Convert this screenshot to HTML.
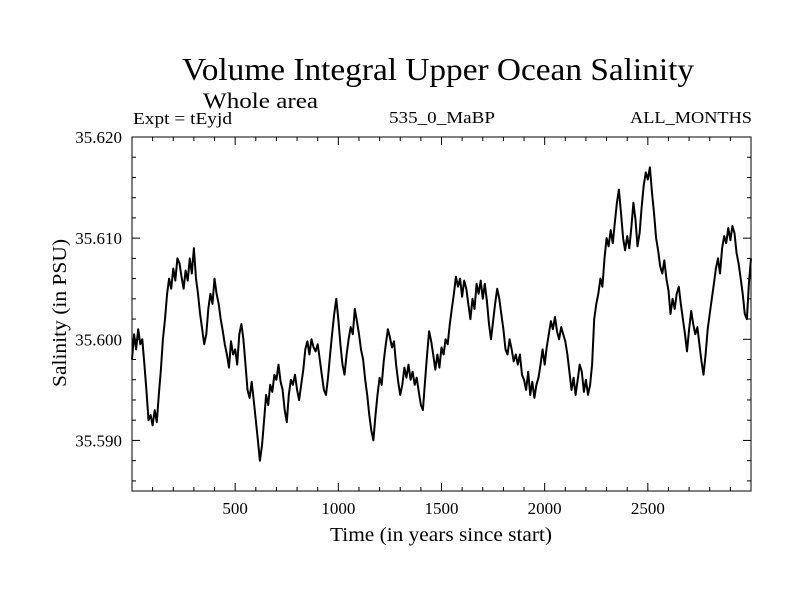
<!DOCTYPE html>
<html><head><meta charset="utf-8"><style>
html,body{margin:0;padding:0;background:#fff;}
svg{display:block;font-family:"Liberation Serif",serif;}
</style></head><body>
<svg id="chart" width="800" height="600" viewBox="0 0 800 600" xmlns="http://www.w3.org/2000/svg">
<rect x="0" y="0" width="800" height="600" fill="#fff"/>
<text x="182" y="80" font-size="32" textLength="512" lengthAdjust="spacingAndGlyphs">Volume Integral Upper Ocean Salinity</text>
<text x="203" y="108" font-size="22" textLength="115" lengthAdjust="spacingAndGlyphs">Whole area</text>
<text x="133" y="124" font-size="17" textLength="99" lengthAdjust="spacingAndGlyphs">Expt = tEyjd</text>
<text x="389" y="123" font-size="17" textLength="106" lengthAdjust="spacingAndGlyphs">535_0_MaBP</text>
<text x="630" y="123" font-size="17" textLength="122" lengthAdjust="spacingAndGlyphs">ALL_MONTHS</text>
<text x="441" y="541" font-size="20" text-anchor="middle" textLength="222" lengthAdjust="spacingAndGlyphs">Time (in years since start)</text>
<text transform="translate(66,313) rotate(-90)" font-size="20" text-anchor="middle" textLength="148" lengthAdjust="spacingAndGlyphs">Salinity (in PSU)</text>
<g id="ticks"></g>
<g id="labels"></g>
<path id="series" fill="none" stroke="#000" stroke-width="2" stroke-linejoin="round"/>
<rect x="132" y="137" width="619" height="354" fill="none" stroke="#000" stroke-width="1"/>
</svg>
<script>
const years = [0,10,20,30,40,50,60,70,80,90,100,110,120,130,140,150,160,170,180,190,200,210,220,230,240,250,260,270,280,290,300,310,320,330,340,350,360,370,380,390,400,410,420,430,440,450,460,470,480,490,500,510,520,530,540,550,560,570,580,590,600,610,620,630,640,650,660,670,680,690,700,710,720,730,740,750,760,770,780,790,800,810,820,830,840,850,860,870,880,890,900,910,920,930,940,950,960,970,980,990,1000,1010,1020,1030,1040,1050,1060,1070,1080,1090,1100,1110,1120,1130,1140,1150,1160,1170,1180,1190,1200,1210,1220,1230,1240,1250,1260,1270,1280,1290,1300,1310,1320,1330,1340,1350,1360,1370,1380,1390,1400,1410,1420,1430,1440,1450,1460,1470,1480,1490,1500,1510,1520,1530,1540,1550,1560,1570,1580,1590,1600,1610,1620,1630,1640,1650,1660,1670,1680,1690,1700,1710,1720,1730,1740,1750,1760,1770,1780,1790,1800,1810,1820,1830,1840,1850,1860,1870,1880,1890,1900,1910,1920,1930,1940,1950,1960,1970,1980,1990,2000,2010,2020,2030,2040,2050,2060,2070,2080,2090,2100,2110,2120,2130,2140,2150,2160,2170,2180,2190,2200,2210,2220,2230,2240,2250,2260,2270,2280,2290,2300,2310,2320,2330,2340,2350,2360,2370,2380,2390,2400,2410,2420,2430,2440,2450,2460,2470,2480,2490,2500,2510,2520,2530,2540,2550,2560,2570,2580,2590,2600,2610,2620,2630,2640,2650,2660,2670,2680,2690,2700,2710,2720,2730,2740,2750,2760,2770,2780,2790,2800,2810,2820,2830,2840,2850,2860,2870,2880,2890,2900,2910,2920,2930,2940,2950,2960,2970,2980,2990,3000];
const salinity = [
35.5980,35.6005,35.5990,35.6010,35.5995,35.6000,35.5975,35.5950,35.5920,35.5925,
35.5915,35.5930,35.5918,35.5945,35.5970,35.6000,35.6020,35.6045,35.6060,35.6050,
35.6070,35.6058,35.6080,35.6075,35.6062,35.6050,35.6068,35.6058,35.6080,35.6065,
35.6090,35.6060,35.6045,35.6025,35.6010,35.5995,35.6005,35.6030,35.6045,35.6035,
35.6060,35.6045,35.6035,35.6020,35.6008,35.5995,35.5985,35.5972,35.5998,35.5985,
35.5990,35.5975,35.6005,35.6015,35.6000,35.5975,35.5950,35.5942,35.5958,35.5940,
35.5920,35.5900,35.5880,35.5895,35.5920,35.5945,35.5935,35.5955,35.5948,35.5965,
35.5960,35.5975,35.5958,35.5950,35.5930,35.5918,35.5945,35.5960,35.5955,35.5965,
35.5950,35.5940,35.5955,35.5970,35.5990,35.5998,35.5985,35.6000,35.5992,35.5988,
35.5995,35.5980,35.5965,35.5950,35.5945,35.5962,35.5985,35.6005,35.6025,35.6040,
35.6020,35.5995,35.5975,35.5965,35.5985,35.6000,35.6012,35.6005,35.6030,35.6018,
35.6005,35.5990,35.5980,35.5960,35.5945,35.5925,35.5910,35.5900,35.5925,35.5945,
35.5962,35.5955,35.5978,35.5995,35.6010,35.6002,35.5992,35.5998,35.5975,35.5958,
35.5945,35.5955,35.5972,35.5962,35.5975,35.5960,35.5968,35.5955,35.5962,35.5948,
35.5935,35.5930,35.5958,35.5985,35.6008,35.5998,35.5985,35.5970,35.5985,35.5972,
35.5992,35.5985,35.6000,35.5995,35.6015,35.6030,35.6045,35.6062,35.6052,35.6060,
35.6042,35.6058,35.6050,35.6035,35.6020,35.6040,35.6030,35.6055,35.6045,35.6058,
35.6040,35.6055,35.6038,35.6015,35.6000,35.6018,35.6035,35.6050,35.6040,35.6025,
35.6010,35.5990,35.5985,35.6000,35.5990,35.5978,35.5985,35.5975,35.5985,35.5965,
35.5960,35.5950,35.5968,35.5945,35.5958,35.5942,35.5955,35.5962,35.5975,35.5990,
35.5975,35.5992,35.6005,35.6018,35.6010,35.6022,35.6008,35.6000,35.6012,35.6005,
35.5998,35.5985,35.5968,35.5950,35.5962,35.5945,35.5960,35.5975,35.5968,35.5948,
35.5960,35.5945,35.5955,35.5975,35.6020,35.6035,35.6045,35.6060,35.6052,35.6080,
35.6100,35.6092,35.6108,35.6095,35.6115,35.6135,35.6148,35.6125,35.6100,35.6088,
35.6102,35.6090,35.6110,35.6135,35.6118,35.6092,35.6105,35.6130,35.6152,35.6165,
35.6158,35.6170,35.6145,35.6125,35.6100,35.6088,35.6072,35.6065,35.6078,35.6060,
35.6048,35.6025,35.6040,35.6030,35.6045,35.6052,35.6035,35.6020,35.6005,35.5988,
35.6010,35.6028,35.6015,35.6005,35.6012,35.5995,35.5978,35.5965,35.5985,35.6010,
35.6025,35.6040,35.6055,35.6070,35.6080,35.6065,35.6090,35.6102,35.6095,35.6110,
35.6098,35.6112,35.6105,35.6085,35.6075,35.6060,35.6045,35.6025,35.6020,35.6055,
35.6080];
const yTicks = [35.590,35.600,35.610,35.620];
const yTickLabels = ["35.590","35.600","35.610","35.620"];
const xTicks = [500,1000,1500,2000,2500];
const xTickLabels = ["500","1000","1500","2000","2500"];

const X0=132,X1=751,Y0=491,Y1=137,XMIN=0,XMAX=3000,YMIN=35.585,YMAX=35.620;
function xs(v){return X0+(v-XMIN)/(XMAX-XMIN)*(X1-X0);}
function ys(v){return Y0-(v-YMIN)/(YMAX-YMIN)*(Y0-Y1);}
const NS="http://www.w3.org/2000/svg";
let d="";
const n=Math.min(years.length,salinity.length);
for(let i=0;i<n;i++){d+=(i?"L":"M")+xs(years[i]).toFixed(1)+","+ys(salinity[i]).toFixed(1);}
document.getElementById("series").setAttribute("d",d);

const tg=document.getElementById("ticks"), lg=document.getElementById("labels");
function ln(x1,y1,x2,y2,name){const l=document.createElementNS(NS,"line");
l.setAttribute("x1",x1);l.setAttribute("y1",y1);l.setAttribute("x2",x2);l.setAttribute("y2",y2);
l.setAttribute("stroke","#000");l.setAttribute("stroke-width","1");


tg.appendChild(l);}
for(let v=100;v<XMAX;v+=100){const x=xs(v);const major=v%500===0;const L=major?8:4;
ln(x,Y0,x,Y0-L,"x-tick");ln(x,Y1,x,Y1+L,"x-tick-top");}
for(let k=1;k<35;k++){const v=YMIN+k*0.001;const y=ys(v);const major=(k%10===5);const L=major?8:4;
if(k%2===1||major){ln(X0,y,X0+L,y,"y-tick");ln(X1,y,X1-L,y,"y-tick-right");}}
yTicks.forEach((v,i)=>{const t=document.createElementNS(NS,"text");
t.setAttribute("x",122);t.setAttribute("y",ys(v)+6);t.setAttribute("text-anchor","end");t.setAttribute("font-size","17");
t.textContent=yTickLabels[i];


lg.appendChild(t);});
xTicks.forEach((v,i)=>{const t=document.createElementNS(NS,"text");
t.setAttribute("x",xs(v));t.setAttribute("y",514);t.setAttribute("text-anchor","middle");t.setAttribute("font-size","17");
t.textContent=xTickLabels[i];


lg.appendChild(t);});
</script>
</body></html>
